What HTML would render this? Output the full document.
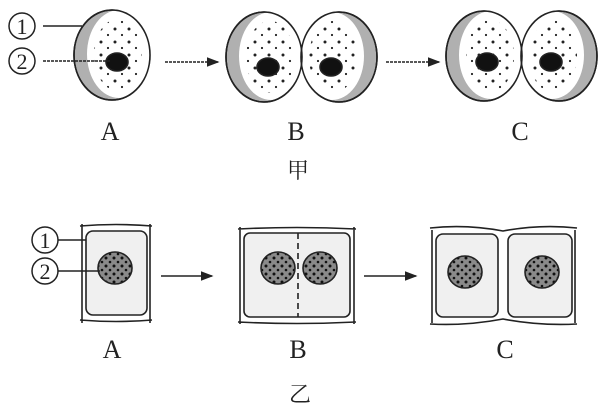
<!DOCTYPE html>
<html><head><meta charset="utf-8"><style>
html,body{margin:0;padding:0;background:#fff;width:610px;height:410px;overflow:hidden}
svg text{font-family:"Liberation Serif","Noto Serif CJK SC",serif;fill:#222}
</style></head><body>
<svg width="610" height="410" viewBox="0 0 610 410">
<defs>
<marker id="ar" markerWidth="8" markerHeight="8" refX="7" refY="4" orient="auto"><path d="M0,1 L8,4 L0,7 Z" fill="#222"/></marker>
<pattern id="dots" width="14" height="13" patternUnits="userSpaceOnUse"><circle cx="3" cy="3" r="1.5" fill="#222"/><circle cx="10" cy="9" r="1.1" fill="#222"/></pattern>
<pattern id="nd" width="8" height="8" patternUnits="userSpaceOnUse"><rect width="8" height="8" fill="#8a8a8a"/><circle cx="2" cy="2" r="1.5" fill="#111"/><circle cx="6" cy="6" r="1.3" fill="#111"/></pattern>
</defs>
<g stroke="#222" stroke-width="1.6">
<ellipse cx="112" cy="55" rx="38" ry="45" fill="#b0b0b0"/>
<ellipse cx="119" cy="54" rx="32" ry="44" fill="#fff" stroke="none"/>
<ellipse cx="118" cy="55" rx="24" ry="36" fill="url(#dots)" stroke="none"/>
<ellipse cx="112" cy="55" rx="38" ry="45" fill="none"/>
<ellipse cx="117" cy="62" rx="11" ry="9" fill="#111"/>
<ellipse cx="264" cy="57" rx="38" ry="45" fill="#b0b0b0"/>
<ellipse cx="271" cy="56" rx="32" ry="44" fill="#fff" stroke="none"/>
<ellipse cx="339" cy="57" rx="38" ry="45" fill="#b0b0b0"/>
<ellipse cx="332" cy="56" rx="32" ry="44" fill="#fff" stroke="none"/>
<ellipse cx="270" cy="57" rx="24" ry="36" fill="url(#dots)" stroke="none"/>
<ellipse cx="333" cy="57" rx="24" ry="36" fill="url(#dots)" stroke="none"/>
<ellipse cx="264" cy="57" rx="38" ry="45" fill="none"/>
<ellipse cx="339" cy="57" rx="38" ry="45" fill="none"/>
<ellipse cx="268" cy="67" rx="11" ry="9" fill="#111"/>
<ellipse cx="331" cy="67" rx="11" ry="9" fill="#111"/>
<ellipse cx="484" cy="56" rx="38" ry="45" fill="#b0b0b0"/>
<ellipse cx="491" cy="55" rx="32" ry="44" fill="#fff" stroke="none"/>
<ellipse cx="559" cy="56" rx="38" ry="45" fill="#b0b0b0"/>
<ellipse cx="552" cy="55" rx="32" ry="44" fill="#fff" stroke="none"/>
<ellipse cx="490" cy="56" rx="24" ry="36" fill="url(#dots)" stroke="none"/>
<ellipse cx="553" cy="56" rx="24" ry="36" fill="url(#dots)" stroke="none"/>
<ellipse cx="484" cy="56" rx="38" ry="45" fill="none"/>
<ellipse cx="559" cy="56" rx="38" ry="45" fill="none"/>
<ellipse cx="487" cy="62" rx="11" ry="9" fill="#111"/>
<ellipse cx="551" cy="62" rx="11" ry="9" fill="#111"/>
<line x1="165" y1="62" x2="218" y2="62" stroke-dasharray="3 1" marker-end="url(#ar)"/>
<line x1="386" y1="62" x2="439" y2="62" stroke-dasharray="3 1" marker-end="url(#ar)"/>
<line x1="43" y1="26" x2="82" y2="26"/>
<line x1="43" y1="61" x2="110" y2="61" stroke-dasharray="3 1"/>
<path d="M80,226 Q116,223 152,226 M80,320 Q116,323 152,320 M82,224 L82,323 M150,224 L150,323" fill="none"/>
<rect x="86" y="231" width="61" height="84" rx="7" fill="#f0f0f0"/>
<ellipse cx="115" cy="268" rx="17" ry="16" fill="url(#nd)"/>
<line x1="58" y1="240" x2="86" y2="240"/>
<line x1="58" y1="271" x2="100" y2="271"/>
<path d="M238,229 Q297,226 356,229 M238,322 Q297,325 356,322 M240,227 L240,324 M354,227 L354,324" fill="none"/>
<rect x="244" y="233" width="106" height="84" rx="6" fill="#f0f0f0"/>
<line x1="298" y1="233" x2="298" y2="317" stroke-dasharray="6 4"/>
<ellipse cx="278" cy="268" rx="17" ry="16" fill="url(#nd)"/>
<ellipse cx="320" cy="268" rx="17" ry="16" fill="url(#nd)"/>
<path d="M430,228 Q466,224 503,231 Q540,224 577,228 M430,324 Q466,326 503,319 Q540,326 577,324 M432,230 L432,323 M575,230 L575,323" fill="none"/>
<rect x="436" y="234" width="62" height="83" rx="7" fill="#f0f0f0"/>
<rect x="508" y="234" width="64" height="83" rx="7" fill="#f0f0f0"/>
<ellipse cx="465" cy="272" rx="17" ry="16" fill="url(#nd)"/>
<ellipse cx="542" cy="272" rx="17" ry="16" fill="url(#nd)"/>
<line x1="161" y1="276" x2="212" y2="276" marker-end="url(#ar)"/>
<line x1="364" y1="276" x2="416" y2="276" marker-end="url(#ar)"/>
</g>
<g stroke="#222" stroke-width="1.5" fill="none">
<circle cx="22" cy="26" r="13"/><circle cx="22" cy="61" r="13"/>
<circle cx="45" cy="240" r="13"/><circle cx="45" cy="271" r="13"/>
</g>
<g font-size="22" text-anchor="middle">
<text x="22" y="34">1</text><text x="22" y="69">2</text>
<text x="45" y="248">1</text><text x="45" y="279">2</text>
</g>
<g font-size="26" text-anchor="middle">
<text x="110" y="140">A</text><text x="296" y="140">B</text><text x="520" y="140">C</text>
<text x="112" y="358">A</text><text x="298" y="358">B</text><text x="505" y="358">C</text>
<text x="298" y="178" font-size="22">甲</text>
<text x="300" y="402" font-size="22">乙</text>
</g>
</svg>
</body></html>
